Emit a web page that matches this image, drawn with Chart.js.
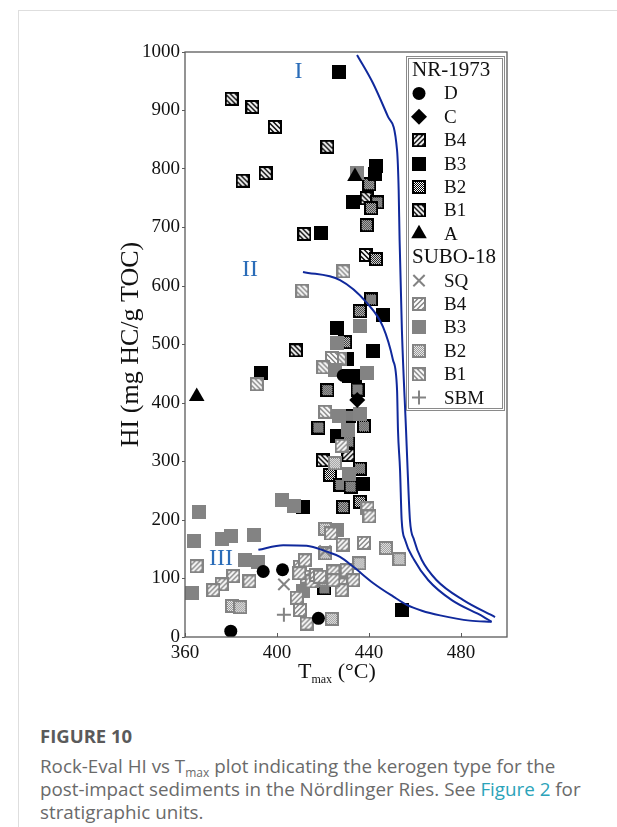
<!DOCTYPE html>
<html><head><meta charset="utf-8">
<script src="https://cdn.jsdelivr.net/npm/chart.js@4.4.0/dist/chart.umd.min.js"></script>
<style>
html,body{margin:0;padding:0;background:#fff;}
body{width:617px;height:827px;position:relative;overflow:hidden;}
#frame{position:absolute;left:18px;top:10px;width:640px;height:900px;border-left:1px solid #dedede;border-top:1px solid #dedede;}
#wrap{position:absolute;left:0;top:0;width:617px;height:700px;}
#xtitle{position:absolute;left:298px;top:660px;font-family:'Liberation Serif';font-size:22px;line-height:21px;color:#111;white-space:nowrap;}
#xtitle sub{font-size:12px;vertical-align:-5px;}
#cap{position:absolute;left:40px;top:723px;width:575px;font-family:'Open Sans';color:#6a6a6a;}
#cap .fig{font-weight:700;font-size:18.5px;line-height:26px;color:#5a5a5a;}
#cap .txt{font-size:18.8px;line-height:23px;margin-top:6px;}
#cap .txt sub{font-size:12px;vertical-align:baseline;position:relative;top:4px;line-height:0;}
#cap a{color:#2ba3b9;text-decoration:none;}
</style></head>
<body>
<div id="frame"></div>
<div id="wrap"><canvas id="c" width="617" height="700"></canvas></div>
<div id="xtitle">T<sub>max</sub> (°C)</div>
<div id="cap"><div class="fig">FIGURE 10</div>
<div class="txt">Rock-Eval HI vs T<sub>max</sub> plot indicating the kerogen type for the<br>post-impact sediments in the Nördlinger Ries. See <a>Figure 2</a> for<br>stratigraphic units.</div></div>
<script>
// ---- data (Tmax °C, HI mg HC/g TOC) ----
const xTicks = [360, 400, 440, 480];
const yTicks = [0, 100, 200, 300, 400, 500, 600, 700, 800, 900, 1000];

const nrD  = [[428.8,447],[394,112],[402.4,115],[418,32],[379.9,10]];
const nrC  = [[434.9,405]];
const nrB4 = [[431,311]];
const nrB3 = [[427,966],[443,805],[442.6,792],[433.2,743],[419,690],[445.9,550],[426,529],[441.9,489],[430.3,476],[392.9,451],[433.9,447],[431.2,447],[426,343],[437.3,262],[411.4,222],[454.2,46]];
const nrB2 = [[440.1,774],[443.6,743],[440.9,733],[439,704],[443,646],[440.9,577],[436,557],[429.6,504],[421.9,422],[435,423],[418,358],[437.8,360],[431.5,378],[431,334],[423,277],[436.1,288],[427.6,260],[432,257],[428.8,222],[436.1,231],[420.6,83],[420.7,143]];
const nrB1 = [[380.3,920],[389.3,906],[399.1,872],[421.9,838],[395.1,793],[385.1,780],[439,750],[411.9,689],[438.7,653],[408.2,490],[420,302]];
const nrA  = [[433.9,787],[365.1,411]];

const suboSQ  = [[403,90],[420.9,147]];
const suboB4  = [[428.1,327],[439.3,220],[440.2,206],[365,121],[381,104],[376,90],[372.3,80],[388,95],[410,120],[412.2,131],[412.9,103],[409.7,109],[415.1,95],[408.6,67],[410,46],[412.9,23],[423.5,177],[428.6,158],[437.8,161],[424.5,112],[430.3,114],[428.1,90],[433.2,97],[417,106],[418.7,103],[428.1,80],[424.5,97]];
const suboB3  = [[434.9,793],[436.1,532],[426,502],[425,456],[439,451],[427.1,377],[436.1,381],[431,354],[431.4,278],[402,234],[407.6,224],[366,213],[364,164],[376,167],[380,173],[390,175],[386.3,131],[391.9,128],[362.9,75],[411.5,78],[426,183]];
const suboB2  = [[425.2,297],[420.9,185],[435.8,126],[447.3,152],[453.2,133],[380.5,53],[384,51],[420.7,98],[423.8,31],[420.9,143]];
const suboB1  = [[428.9,625],[411,592],[427.3,476],[423.9,477],[420.1,461],[391.2,432],[420.9,385]];
const suboSBM = [[403,38]];

// kerogen type boundary curves
const curveI   = [[434.8,995],[441.7,947],[448.3,889],[452.2,832],[452.9,764],[453.3,679],[454.3,525],[456.1,354],[456.8,285],[457.8,200],[459.6,166],[462.9,132],[469.4,97],[481,63],[494.8,34]];
const curveII  = [[411.3,624],[427.4,610],[439.1,571],[446.1,530],[450.4,474],[452.2,422],[452.6,354],[453.5,285],[454.2,200],[455.7,166],[459.6,132],[465.8,97],[476,63],[489.6,35],[493.3,26]];
const curveIII = [[391.9,149],[402.7,157],[412.9,156],[421.6,146],[427.4,137],[433.2,120],[441.9,92],[450.6,69],[456.4,55],[463,45],[470.9,37],[483.9,28],[493.3,26]];
const typeLabels = [['I',409.3,966],['II',388.3,628],['III',375.7,134]];

// ---- marker images ----
function sq(fill, border, pat){
  const s=14, c=document.createElement('canvas'); c.width=s; c.height=s;
  const g=c.getContext('2d');
  if(pat==='checker'){
    for(let i=0;i<s;i++)for(let j=0;j<s;j++){g.fillStyle=((i+j)%2)?fill:'#fff';g.fillRect(i,j,1,1);}
  } else { g.fillStyle=fill; g.fillRect(0,0,s,s); }
  if(pat==='back'||pat==='fwd'){
    g.save(); g.beginPath(); g.rect(0,0,s,s); g.clip();
    g.strokeStyle='#fff'; g.lineWidth=2;
    for(let k=-s;k<=s+4;k+=5){ g.beginPath();
      if(pat==='back'){g.moveTo(k,0);g.lineTo(k+s,s);} else {g.moveTo(k,s);g.lineTo(k+s,0);}
      g.stroke(); }
    g.restore();
  }
  g.strokeStyle=border; g.lineWidth=2; g.strokeRect(1,1,s-2,s-2);
  return c;
}
const BLK='#000', GRY='#838383';
const toPts = a => a.map(p=>({x:p[0],y:p[1]}));
function pts(label, group, data, style, color, radius, order, bw){
  return {label, group, data:toPts(data), pointStyle:style, pointRadius:radius, pointHoverRadius:radius,
    backgroundColor:color, borderColor:color, pointBorderWidth:bw||0, borderWidth:bw||0, order, showLine:false};
}
function curve(data){
  return {label:'', data:toPts(data), showLine:true, pointRadius:0, borderColor:'#10299c', borderWidth:2,
    cubicInterpolationMode:'monotone', fill:false, order:0, isCurve:true};
}
const datasets = [
  curve(curveI), curve(curveII), curve(curveIII),
  pts('D','NR-1973',nrD,'circle',BLK,6.5,1),
  pts('C','NR-1973',nrC,'rectRot',BLK,8,1),
  pts('B4','NR-1973',nrB4,sq(BLK,BLK,'fwd'),BLK,7,3),
  pts('B3','NR-1973',nrB3,sq(BLK,BLK,'solid'),BLK,7,3),
  pts('B2','NR-1973',nrB2,sq(BLK,BLK,'checker'),BLK,7,3),
  pts('B1','NR-1973',nrB1,sq(BLK,BLK,'back'),BLK,7,3),
  pts('A','NR-1973',nrA,'triangle',BLK,9,1),
  pts('SQ','SUBO-18',suboSQ,'crossRot',GRY,8,1,2),
  pts('B4','SUBO-18',suboB4,sq(GRY,GRY,'fwd'),GRY,7,2),
  pts('B3','SUBO-18',suboB3,sq(GRY,GRY,'solid'),GRY,7,2),
  pts('B2','SUBO-18',suboB2,sq(GRY,GRY,'checker'),GRY,7,2),
  pts('B1','SUBO-18',suboB1,sq(GRY,GRY,'back'),GRY,7,2),
  pts('SBM','SUBO-18',suboSBM,'cross',GRY,7,1,2),
];

const SERIF="'Liberation Serif', 'Times New Roman', serif";

const decor = {
  id:'decor',
  afterDatasetsDraw(chart){
    const ctx=chart.ctx, a=chart.chartArea, xs=chart.scales.x, ys=chart.scales.y;
    ctx.save();
    ctx.strokeStyle='#5a5a5a'; ctx.lineWidth=1.3;
    ctx.strokeRect(a.left, a.top, a.right-a.left, a.bottom-a.top);
    ctx.lineWidth=1;
    xTicks.forEach(v=>{const px=Math.round(xs.getPixelForValue(v))+0.5; ctx.beginPath(); ctx.moveTo(px,a.bottom); ctx.lineTo(px,a.bottom-4); ctx.stroke();});
    ctx.fillStyle='#2a6cb8'; ctx.font='24px '+SERIF; ctx.textAlign='center'; ctx.textBaseline='middle';
    typeLabels.forEach(t=>ctx.fillText(t[0], xs.getPixelForValue(t[1]), ys.getPixelForValue(t[2])));
    // legend
    const L=406, T=56, R=505, B=411;
    ctx.fillStyle='#fff'; ctx.fillRect(L,T,R-L,B-T);
    ctx.strokeStyle='#8a8a8a'; ctx.lineWidth=1;
    ctx.strokeRect(L+0.5,T+0.5,R-L-1,B-T-1);
    ctx.strokeRect(L+2.5,T+2.5,R-L-5,B-T-5);
    let row=0; const y0=70, dy=23.4;
    let lastGroup=null;
    chart.data.datasets.forEach(ds=>{
      if(ds.isCurve) return;
      if(ds.group!==lastGroup){
        lastGroup=ds.group;
        ctx.fillStyle='#111'; ctx.font='21px '+SERIF; ctx.textAlign='left'; ctx.textBaseline='middle';
        ctx.fillText(ds.group, 412, y0+row*dy); row++;
      }
      const y=y0+row*dy;
      ctx.fillStyle=ds.backgroundColor; ctx.strokeStyle=ds.borderColor; ctx.lineWidth=ds.pointBorderWidth||1;
      Chart.helpers.drawPoint(ctx,{pointStyle:ds.pointStyle, radius:ds.pointRadius, borderWidth:ds.pointBorderWidth||0, rotation:0}, 419, y);
      ctx.fillStyle='#111'; ctx.font='19px '+SERIF; ctx.textAlign='left'; ctx.textBaseline='middle';
      ctx.fillText(ds.label, 444, y+1);
      row++;
    });
    ctx.restore();
  }
};

new Chart(document.getElementById('c'), {
  type:'scatter',
  data:{datasets},
  options:{
    responsive:false, animation:false, events:[],
    layout:{padding:{left:0, top:52, right:110, bottom:0}},
    plugins:{legend:{display:false}, tooltip:{enabled:false}},
    scales:{
      x:{type:'linear', min:360, max:500,
        afterBuildTicks:s=>{s.ticks=xTicks.map(v=>({value:v}));},
        afterFit:s=>{s.height=63;},
        grid:{display:false, drawTicks:false}, border:{display:false},
        ticks:{padding:5, color:'#111', font:{family:SERIF, size:19}, callback:v=>String(v)}},
      y:{type:'linear', min:0, max:1000,
        afterBuildTicks:s=>{s.ticks=yTicks.map(v=>({value:v}));},
        afterFit:s=>{s.width=185;},
        grid:{display:true, drawOnChartArea:false, drawTicks:true, tickLength:3, color:'#5a5a5a'}, border:{display:false},
        ticks:{padding:2, color:'#111', font:{family:SERIF, size:19}, callback:v=>String(v)},
        title:{display:true, text:'HI (mg HC/g TOC)', color:'#111', font:{family:SERIF, size:26}, padding:{top:116, bottom:0}}}
    }
  },
  plugins:[decor]
});
</script>
</body></html>
